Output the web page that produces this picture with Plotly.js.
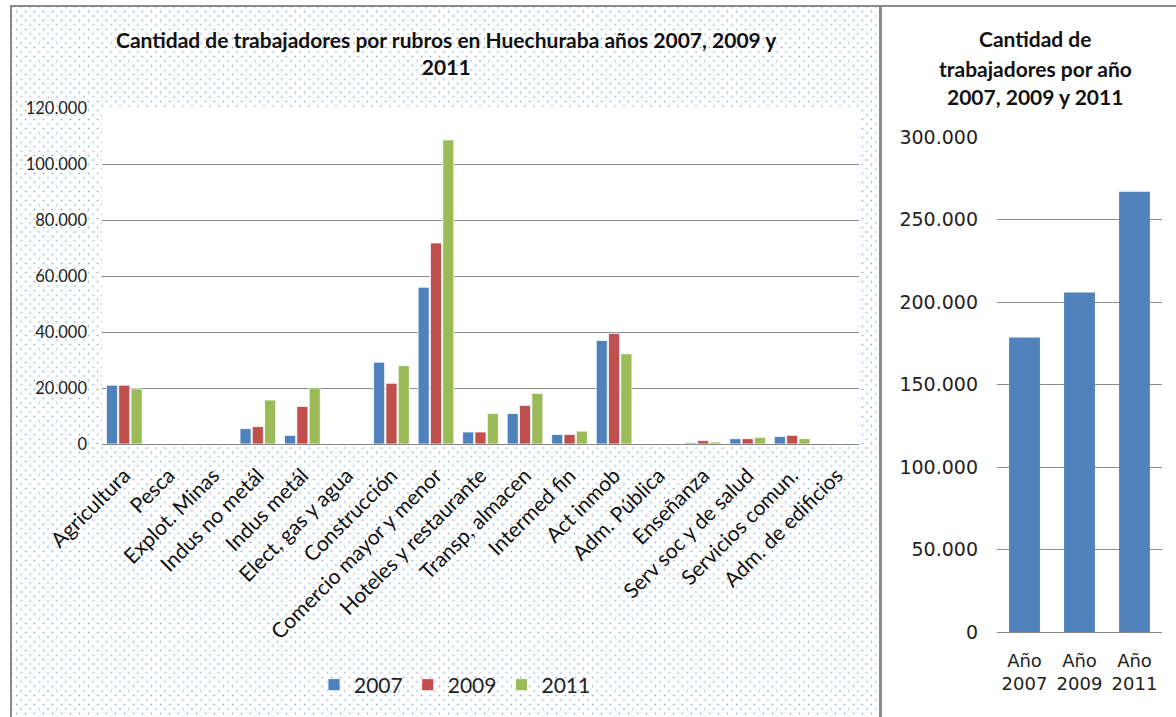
<!DOCTYPE html>
<html>
<head>
<meta charset="utf-8">
<script src="https://cdn.plot.ly/plotly-3.0.1.min.js"></script>
<style>
  html, body { margin: 0; padding: 0; background: #fff; }
  #frame { position: absolute; left: 0; top: 0; width: 1176px; height: 717px; overflow: hidden; }
  #dots {
    position: absolute; left: 10px; top: 5px; width: 872px; height: 712px;
    border-top: 2px solid #8a8a8a; border-left: 2px solid #8a8a8a; border-right: 3px solid #8a8a8a;
    box-sizing: border-box;
    background-color: #fff;
    background-image:
      radial-gradient(circle, #7ea4dc 0.7px, transparent 1.1px),
      radial-gradient(circle, #7ea4dc 0.7px, transparent 1.1px);
    background-size: 9px 9px, 9px 9px;
    background-position: 0 0, 4.5px 4.5px;
  }
  #topline { position: absolute; left: 882px; top: 5px; width: 294px; height: 2px; background: #8a8a8a; }
  #graph { position: absolute; left: 0; top: 0; width: 1176px; height: 717px; }
</style>
</head>
<body>
<div id="frame">
  <div id="dots"></div>
  <div id="topline"></div>
  <div id="graph"></div>
</div>
<script>
const rubros = ['Agricultura', 'Pesca', 'Explot. Minas', 'Indus no metál', 'Indus metál',
  'Elect, gas y agua', 'Construcción', 'Comercio mayor y menor', 'Hoteles y restaurante',
  'Transp, almacen', 'Intermed fin', 'Act inmob', 'Adm. Pública', 'Enseñanza',
  'Serv soc y de salud', 'Servicios comun.', 'Adm. de edificios'];

const v2007 = [21000, 0, 0, 5500, 3100, 0, 29200, 56000, 4300, 10900, 3400, 37000, 0, 400, 1900, 2700, 0];
const v2009 = [21000, 0, 0, 6200, 13400, 0, 21700, 71800, 4300, 13800, 3400, 39500, 0, 1200, 1900, 3100, 0];
const v2011 = [19700, 0, 0, 15700, 20100, 0, 28000, 108600, 10900, 18100, 4600, 32200, 0, 700, 2400, 1900, 0];

const anios = ['Año<br>2007', 'Año<br>2009', 'Año<br>2011'];
const totales = [178500, 205800, 266800];

const colors = ['#4F81BD', '#C0504D', '#9BBB59'];
const leftFont = 'Lato, "Open Sans", sans-serif';
const rightFont = '"DejaVu Sans", Verdana, sans-serif';

function barTrace(name, values, color) {
    return {
        type: 'bar',
        name: name,
        x: rubros,
        y: values,
        xaxis: 'x',
        yaxis: 'y',
        marker: { color: color, line: { color: '#ffffff', width: 0.8 } },
        hoverinfo: 'x+y'
    };
}

const traces = [
    barTrace('2007', v2007, colors[0]),
    barTrace('2009', v2009, colors[1]),
    barTrace('2011', v2011, colors[2]),
    {
        type: 'bar',
        x: anios,
        y: totales,
        xaxis: 'x2',
        yaxis: 'y2',
        width: 0.56,
        showlegend: false,
        marker: { color: colors[0] }
    }
];

const H = 717, W = 1176;
const layout = {
    width: W,
    height: H,
    margin: { l: 0, r: 0, t: 0, b: 0 },
    paper_bgcolor: 'rgba(0,0,0,0)',
    plot_bgcolor: '#ffffff',
    separators: ',.',
    barmode: 'group',
    bargap: 0.17,
    bargroupgap: 0.1,
    font: { family: leftFont, color: '#222' },
    xaxis: {
        domain: [102 / W, 859 / W],
        anchor: 'y',
        type: 'category',
        tickangle: -45,
        tickfont: { size: 21, family: leftFont, color: '#111' },
        showline: true,
        linecolor: '#888',
        linewidth: 1,
        ticks: '',
        ticklabelstandoff: 10,
        showgrid: false
    },
    yaxis: {
        domain: [(H - 444) / H, (H - 108) / H],
        anchor: 'x',
        range: [0, 120000],
        dtick: 20000,
        tickformat: ',d',
        tickfont: { size: 16.5, family: leftFont, color: '#222' },
        gridcolor: '#8c8c8c',
        gridwidth: 1,
        zeroline: false,
        showline: false,
        ticks: '',
        ticklabelstandoff: 14
    },
    xaxis2: {
        domain: [997 / W, 1162 / W],
        anchor: 'y2',
        type: 'category',
        tickfont: { size: 18, family: rightFont, color: '#222' },
        showline: true,
        linecolor: '#888',
        ticks: '',
        ticklabelstandoff: 12,
        showgrid: false
    },
    yaxis2: {
        domain: [(H - 632) / H, (H - 137) / H],
        anchor: 'x2',
        range: [0, 300000],
        dtick: 50000,
        tickformat: ',d',
        tickfont: { size: 19, family: rightFont, color: '#222' },
        gridcolor: '#8c8c8c',
        zeroline: false,
        ticks: '',
        ticklabelstandoff: 18
    },
    showlegend: true,
    legend: {
        orientation: 'h',
        x: 455 / W,
        xanchor: 'center',
        y: (H - 685) / H,
        yanchor: 'middle',
        font: { size: 21, family: leftFont, color: '#222' },
        bgcolor: 'rgba(0,0,0,0)',
        itemwidth: 30,
        traceorder: 'normal'
    },
    annotations: [
        {
            xref: 'paper', yref: 'paper',
            x: 446 / W, y: (H - 53) / H,
            xanchor: 'center', yanchor: 'middle',
            showarrow: false,
            text: '<b>Cantidad de trabajadores por rubros en Huechuraba años 2007, 2009 y<br>2011</b>',
            font: { size: 21, family: leftFont, color: '#111' }
        },
        {
            xref: 'paper', yref: 'paper',
            x: 1035 / W, y: (H - 39) / H,
            xanchor: 'center', yanchor: 'middle', showarrow: false,
            text: '<b>Cantidad de</b>',
            font: { size: 21, family: leftFont, color: '#111' }
        },
        {
            xref: 'paper', yref: 'paper',
            x: 1035 / W, y: (H - 68) / H,
            xanchor: 'center', yanchor: 'middle', showarrow: false,
            text: '<b>trabajadores por año</b>',
            font: { size: 21, family: leftFont, color: '#111' }
        },
        {
            xref: 'paper', yref: 'paper',
            x: 1035 / W, y: (H - 97) / H,
            xanchor: 'center', yanchor: 'middle', showarrow: false,
            text: '<b>2007, 2009 y 2011</b>',
            font: { size: 21, family: leftFont, color: '#111' }
        }
    ]
};

Plotly.newPlot('graph', traces, layout, { displayModeBar: false, staticPlot: true });
</script>
</body>
</html>
